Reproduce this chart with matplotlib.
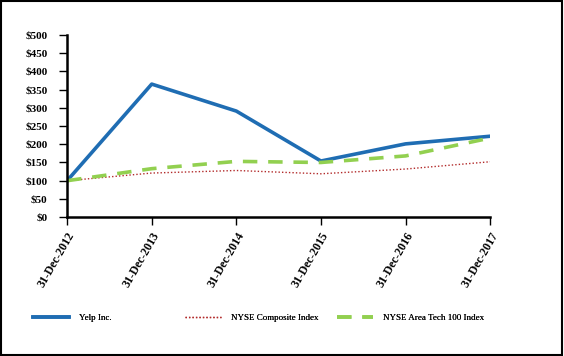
import matplotlib
matplotlib.use("Agg")
import matplotlib.pyplot as plt
from matplotlib.patches import Rectangle

plt.rcParams['font.family'] = ['Liberation Serif', 'DejaVu Serif']

dates = ["31-Dec-2012", "31-Dec-2013", "31-Dec-2014", "31-Dec-2015", "31-Dec-2016", "31-Dec-2017"]
yelp = [100, 365, 291, 154, 201, 222]
nyse_comp = [100, 121, 128, 119, 132, 152]
nyse_tech = [100, 133, 153, 150, 168, 217]
y_ticks = [0, 50, 100, 150, 200, 250, 300, 350, 400, 450, 500]

fig = plt.figure(figsize=(5.64, 3.56), dpi=100)
ax = fig.add_axes([0.119, 0.39, 0.750, 0.512])

x = range(len(dates))
l1, = ax.plot(x, yelp, color="#1f6db3", lw=2.6, label="Yelp Inc.")
l2, = ax.plot(x, nyse_comp, color="#b22a2a", lw=1.0, ls=(0, (1, 1.5)), label="NYSE Composite Index")
l3, = ax.plot(x, nyse_tech, color="#92d050", lw=2.6, ls=(0, (4, 3)), label="NYSE Area Tech 100 Index")

ax.set_xlim(0, len(dates) - 1)
ax.set_ylim(0, 500)
ax.set_yticks(y_ticks)
ax.set_yticklabels(["$" + str(v) for v in y_ticks], fontsize=8, fontweight="bold")
ax.set_xticks(list(x))
ax.set_xticklabels(dates, fontsize=8.5, fontweight="bold", rotation=60, ha="right", rotation_mode="anchor")
for s in ["top", "right"]:
    ax.spines[s].set_visible(False)
for s in ["left", "bottom"]:
    ax.spines[s].set_linewidth(1.8)
ax.tick_params(axis="both", direction="out", length=6, width=1)
ax.tick_params(axis="y", pad=8)
ax.tick_params(axis="x", pad=3)

# legend entries sit at fixed slots along the bottom
for line, xpos in [(l1, 0.058), (l2, 0.328), (l3, 0.598)]:
    lg = fig.legend(handles=[line], loc="center left", bbox_to_anchor=(xpos, 0.107),
                    frameon=False, handlelength=4.0, fontsize=6.5, handletextpad=1.1,
                    borderpad=0, borderaxespad=0)
    fig.add_artist(lg)

fig.add_artist(Rectangle((0.002, 0.003), 0.995, 0.994, transform=fig.transFigure,
                         fill=False, lw=1.5, edgecolor="black"))

fig.savefig("out.png", dpi=100)
